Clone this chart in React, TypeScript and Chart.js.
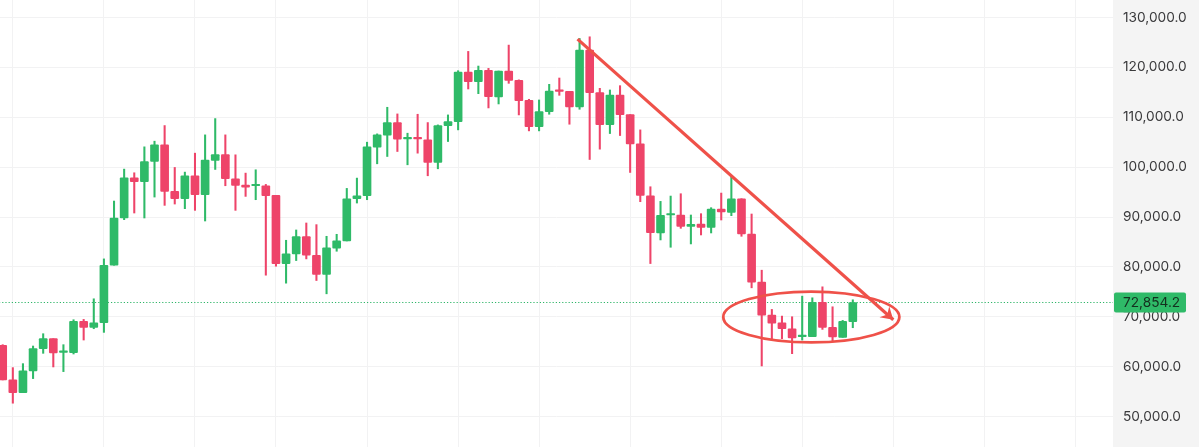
import React, { useEffect, useRef } from "react";
import { Chart, registerables } from "chart.js";

Chart.register(...registerables);

const opens = [64267,57333,54800,59133,63600,65600,62867,62800,69067,67867,68800,80333,89800,97867,97067,101133,104467,95133,93667,98267,94467,101333,102533,97667,96400,96267,96267,94333,80667,82600,86067,82333,78467,83733,85200,93667,94267,104000,106400,108933,105667,105800,105467,100933,108333,109133,119067,117133,119400,114067,119267,117400,113400,108133,111133,115467,115200,112067,123467,114933,108533,114467,110533,104667,94267,86800,90400,90400,88133,88600,87933,91600,90933,93667,86600,76933,70333,68800,67600,66000,66000,72867,67867,65867,69000];
const closes = [57333,54800,59133,63600,65600,62733,63000,69067,67867,68800,80333,89800,97867,97067,101133,104467,95133,93667,98267,94467,101400,102533,97667,96333,96000,96400,94267,80667,82600,86067,82333,78467,83800,85200,93667,94267,104067,106467,108933,105600,105800,105667,100933,108333,109133,119067,117133,119400,114133,119267,117400,113333,108133,111133,115267,115200,112067,123467,114933,108533,114467,110533,104667,94333,86867,90333,90600,88133,88533,87933,91600,91000,93667,86600,76933,70333,68733,67600,65733,66133,72867,67867,65933,69067,72854.2];
const highs = [64400,59800,60600,64133,66600,65600,64400,69400,69467,73600,81600,93200,99600,98867,104067,105200,108333,99933,99000,102800,106467,109733,106467,102467,98800,99467,96533,94333,85333,87400,88800,88467,86133,86533,95733,97800,105000,106667,112000,110667,106800,110600,108933,108467,110467,119333,123200,120267,119800,119267,124467,117500,113600,113467,116600,117867,115200,125800,126133,115800,115467,116333,110533,107467,96067,93133,94200,94667,90400,90667,91867,94800,98133,93667,90600,79333,71467,70133,70000,74133,73800,76000,72000,69267,73400];
const lows = [57333,52667,54800,57600,62667,59933,59000,62533,65333,67600,66867,80333,89467,90800,89800,94000,92333,92600,91667,91333,89200,99533,96267,91333,94133,93467,78333,80133,76733,81267,81600,77267,74600,83133,85200,92800,93467,100667,102133,103133,100467,102800,98267,99667,105133,107467,115667,114733,111867,112667,116800,110467,107267,107267,110600,114400,108600,111600,101533,103600,106733,106333,98933,93067,80667,85400,83933,87733,84600,86400,86800,89400,90267,86133,75800,60133,65467,65600,62600,65333,66000,67467,65133,65867,67800];

const monthTicks = [1,10,19,27,36,45,53,62,71,79,88,97,106];
const priceTicks = [130000,120000,110000,100000,90000,80000,70000,60000,50000];
const lastPrice = 72854.2;
const trendX = [56.8, 88.0];
const trendY = [125667, 69400];
const ringCentre = { x: 79.9, y: 69950 };
const ringRadius = { x: 8.7, y: 5100 };

const UP = "#2fba68";
const DOWN = "#ee4469";
const INK = "#ef5149";

const fmt = (v: number) =>
  v.toLocaleString("en-US", { minimumFractionDigits: 1, maximumFractionDigits: 1 });

const App = () => {
  const ref = useRef<HTMLCanvasElement>(null);
  useEffect(() => {
    document.body.style.margin = "0";
    const idx = opens.map((_, i) => i);
    const colors = idx.map((i) => (closes[i] >= opens[i] ? UP : DOWN));

    const panel = {
      id: "panel",
      beforeDraw(c: any) {
        const { ctx, chartArea: a, width, height } = c;
        ctx.save();
        ctx.fillStyle = "#ffffff";
        ctx.fillRect(0, 0, width, height);
        ctx.fillStyle = "#f4f4f4";
        ctx.fillRect(a.right, 0, width - a.right, height);
        ctx.restore();
      },
      afterDraw(c: any) {
        const { ctx, chartArea: a, scales } = c;
        const X = scales.x, Y = scales.y;
        ctx.save();
        // ring
        ctx.strokeStyle = INK;
        ctx.lineWidth = 2.8;
        ctx.beginPath();
        const cx = X.getPixelForValue(ringCentre.x);
        const cy = Y.getPixelForValue(ringCentre.y);
        const rx = X.getPixelForValue(ringCentre.x + ringRadius.x) - cx;
        const ry = Y.getPixelForValue(ringCentre.y - ringRadius.y) - cy;
        ctx.ellipse(cx, cy, rx, ry, 0, 0, Math.PI * 2);
        ctx.stroke();
        // arrow head
        const x0 = X.getPixelForValue(trendX[0]), y0 = Y.getPixelForValue(trendY[0]);
        const x1 = X.getPixelForValue(trendX[1]), y1 = Y.getPixelForValue(trendY[1]);
        const ang = Math.atan2(y1 - y0, x1 - x0);
        ctx.fillStyle = INK;
        ctx.beginPath();
        ctx.moveTo(x1, y1);
        ctx.lineTo(x1 - 14 * Math.cos(ang - 0.55), y1 - 14 * Math.sin(ang - 0.55));
        ctx.lineTo(x1 - 8 * Math.cos(ang), y1 - 8 * Math.sin(ang));
        ctx.lineTo(x1 - 14 * Math.cos(ang + 0.55), y1 - 14 * Math.sin(ang + 0.55));
        ctx.closePath();
        ctx.fill();
        // price tag
        const py = Y.getPixelForValue(lastPrice);
        ctx.fillStyle = UP;
        ctx.beginPath();
        ctx.roundRect(a.right + 1, py - 10, 72, 20, 2);
        ctx.fill();
        ctx.fillStyle = "#14301f";
        ctx.font = "13.7px Inter";
        ctx.textBaseline = "middle";
        ctx.textAlign = "left";
        ctx.fillText(fmt(lastPrice), a.right + 10, py + 0.5);
        ctx.restore();
      },
    };

    const chart = new Chart(ref.current!, {
      type: "bar",
      data: {
        datasets: [
          {
            type: "line",
            data: trendX.map((x, i) => ({ x, y: trendY[i] })),
            borderColor: INK,
            borderWidth: 3.2,
            pointRadius: 0,
            order: 1,
          },
          {
            type: "line",
            data: [{ x: -1, y: lastPrice }, { x: 115, y: lastPrice }],
            borderColor: "#2fb568",
            borderWidth: 1.2,
            borderDash: [1.2, 2],
            pointRadius: 0,
            order: 4,
          },
          {
            data: idx.map((i) => ({ x: i, y: [opens[i], closes[i]] })),
            backgroundColor: colors,
            barThickness: 8,
            minBarLength: 1.5,
            grouped: false,
            borderRadius: 1,
            borderSkipped: false,
            order: 2,
          },
          {
            data: idx.map((i) => ({ x: i, y: [lows[i], highs[i]] })),
            backgroundColor: colors,
            barThickness: 1.4,
            grouped: false,
            order: 3,
          },
        ] as any,
      },
      options: {
        animation: false,
        responsive: false,
        parsing: undefined,
        layout: { padding: 0 },
        plugins: { legend: { display: false }, tooltip: { enabled: false } },
        scales: {
          x: {
            type: "linear",
            offset: false,
            min: -0.267,
            max: 109.71,
            afterBuildTicks: (s: any) => {
              s.ticks = monthTicks.map((value) => ({ value }));
            },
            afterFit: (s: any) => {
              s.height = 0;
              s.paddingLeft = 0;
              s.paddingRight = 0;
            },
            ticks: { display: false },
            grid: { color: "#f2f2f3", lineWidth: 1, offset: false, drawTicks: false },
            border: { display: false },
          },
          y: {
            position: "right",
            min: 43885,
            max: 133509,
            afterBuildTicks: (s: any) => {
              s.ticks = priceTicks.map((value) => ({ value }));
            },
            afterFit: (s: any) => {
              s.width = 86;
              s.paddingTop = 0;
              s.paddingBottom = 0;
            },
            ticks: {
              color: "#3a3a3c",
              font: { family: "Inter", size: 13.7 },
              padding: 10,
              callback: (v: any) => fmt(Number(v)),
            },
            grid: { color: "#f2f2f3", lineWidth: 1, drawTicks: false },
            border: { display: false },
          },
        },
      } as any,
      plugins: [panel],
    });
    return () => chart.destroy();
  }, []);
  return <canvas ref={ref} width={1199} height={447} style={{ display: "block" }} />;
};

export default App;
